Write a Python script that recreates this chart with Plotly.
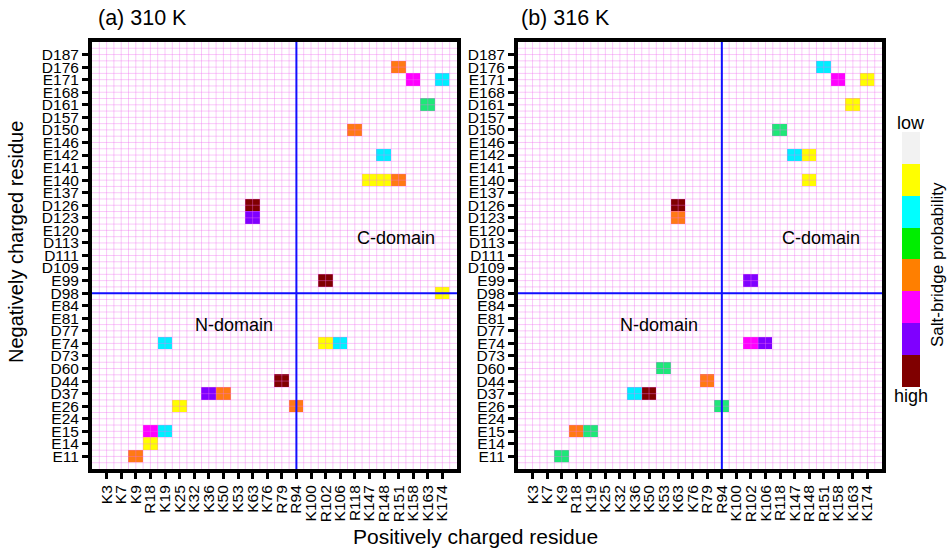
import numpy as np
import plotly.graph_objects as go

# ---------------- data ----------------
x_labels = ["K3", "K7", "K9", "R18", "K19", "K25", "K32", "K36", "K50", "K53", "K63", "K76",
            "R79", "R94", "K100", "R102", "K106", "R118", "K147", "R148", "R151", "K158",
            "K163", "K174"]
y_labels = ["E11", "E14", "E15", "E24", "E26", "D37", "D44", "D60", "D73", "E74", "D77", "E81",
            "E84", "D98", "E99", "D109", "D111", "D113", "E120", "D123", "D126", "E137", "E140",
            "E141", "E142", "E146", "D150", "D157", "D161", "E168", "E171", "D176", "D187"]

# probability rank: 1 = yellow (lowest shown) ... 7 = dark red (highest)
pos_310 = ["K9", "R18", "R18", "K19", "K25", "K36", "K50", "R79", "R94", "K19", "R102", "K106",
           "R102", "K174", "K63", "K63", "K147", "R148", "R151", "R148", "R118", "K163", "R151",
           "K158", "K174"]
neg_310 = ["E11", "E14", "E15", "E15", "E26", "D37", "D37", "D44", "E26", "E74", "E74", "E74",
           "E99", "D98", "D126", "D123", "E140", "E140", "E140", "E142", "D150", "D161", "D176",
           "E171", "E171"]
rank_310 = [4, 1, 5, 2, 1, 6, 4, 7, 4, 2, 1, 2, 7, 1, 7, 6, 1, 1, 4, 2, 4, 3, 4, 5, 2]

pos_316 = ["R151", "K158", "K174", "K163", "R118", "K147", "R148", "R148", "K63", "K63", "R102",
           "R102", "K106", "K53", "R79", "K36", "K50", "R94", "R18", "K19", "K9"]
neg_316 = ["D176", "E171", "E171", "D161", "D150", "E142", "E142", "E140", "D126", "D123", "E99",
           "E74", "E74", "D60", "D44", "D37", "D37", "E26", "E15", "E15", "E11"]
rank_316 = [2, 5, 1, 1, 3, 2, 1, 1, 7, 4, 6, 5, 6, 3, 4, 2, 7, 3, 4, 3, 3]

panel_titles = ["(a) 310 K", "(b) 316 K"]
divider_x = "R94"
divider_y = "D98"

# ---------------- styles ----------------
FONT = "Liberation Sans, Arial, sans-serif"
cell_colors = ["#ffff00", "#00f0ff", "#1ee878", "#ff7a14", "#ff00ff", "#7f00ff", "#800000"]
bar_colors = ["#800000", "#7f00ff", "#ff00ff", "#ff7f00", "#00ee00", "#00ffff", "#ffff00", "#f2f2f2"]


def discrete_scale(colors):
    n = len(colors)
    sc = []
    for i, c in enumerate(colors):
        sc.append([i / n, c])
        sc.append([(i + 1) / n, c])
    return sc


def build_z(pos, neg, rank):
    z = [[None] * len(x_labels) for _ in y_labels]
    for p, q, r in zip(pos, neg, rank):
        z[y_labels.index(q)][x_labels.index(p)] = r
    return z


fig = go.Figure()
XR = [-1, len(x_labels)]
YR = [-1, len(y_labels)]

panels = [(pos_310, neg_310, rank_310), (pos_316, neg_316, rank_316)]
for k, (pos, neg, rank) in enumerate(panels):
    xa = "x" if k == 0 else "x2"
    ya = "y" if k == 0 else "y2"
    fig.add_trace(go.Heatmap(
        x=list(range(len(x_labels))), y=list(range(len(y_labels))),
        z=build_z(pos, neg, rank), zmin=0.5, zmax=7.5,
        colorscale=discrete_scale(cell_colors), showscale=False,
        xaxis=xa, yaxis=ya, hoverinfo="skip"))
    # pink grid drawn above cells
    gx, gy = [], []
    for v in np.arange(XR[0] + 0.5, XR[1], 0.5):
        gx += [v, v, None]
        gy += [YR[0], YR[1], None]
    for v in np.arange(YR[0] + 0.5, YR[1], 0.5):
        gx += [XR[0], XR[1], None]
        gy += [v, v, None]
    fig.add_trace(go.Scatter(x=gx, y=gy, mode="lines",
                             line=dict(color="rgba(240,110,240,0.38)", width=1),
                             xaxis=xa, yaxis=ya, hoverinfo="skip", showlegend=False))
    # blue domain dividers
    xi = x_labels.index(divider_x)
    yi = y_labels.index(divider_y)
    fig.add_shape(type="line", x0=xi, x1=xi, y0=YR[0], y1=YR[1], xref=xa, yref=ya,
                  line=dict(color="#1010ff", width=2), layer="above")
    fig.add_shape(type="line", x0=XR[0], x1=XR[1], y0=yi, y1=yi, xref=xa, yref=ya,
                  line=dict(color="#1010ff", width=2), layer="above")
    fig.add_annotation(x=19.8, y=17.4, xref=xa, yref=ya, text="C-domain", showarrow=False,
                       font=dict(size=18, color="black", family=FONT))
    fig.add_annotation(x=8.7, y=10.5, xref=xa, yref=ya, text="N-domain", showarrow=False,
                       font=dict(size=18, color="black", family=FONT))

# colorbar
fig.add_trace(go.Scatter(
    x=[None], y=[None], mode="markers", showlegend=False, hoverinfo="skip",
    marker=dict(color=[0], cmin=-0.5, cmax=7.5, colorscale=discrete_scale(bar_colors),
                showscale=True,
                colorbar=dict(x=902 / 950, xanchor="left", y=1 - 259.5 / 551, yanchor="middle",
                              len=255, lenmode="pixels", thickness=18, thicknessmode="pixels",
                              outlinewidth=0, showticklabels=False, ticks="", xpad=0, ypad=0))))

axis_common = dict(showline=True, linewidth=4, linecolor="black", mirror=True,
                   ticks="outside", ticklen=6, tickwidth=3, tickcolor="black",
                   showgrid=False, zeroline=False, tickfont=dict(size=15.5, family=FONT, color="black"))

xdom = [[92 / 950, 457 / 950], [518 / 950, 882 / 950]]
ydom = [1 - 469 / 551, 1 - 42 / 551]

fig.update_layout(
    width=950, height=551, margin=dict(l=0, r=0, t=0, b=0),
    paper_bgcolor="white", plot_bgcolor="white", showlegend=False,
    font=dict(family=FONT, color="black"),
    xaxis=dict(domain=xdom[0], range=XR, tickvals=list(range(len(x_labels))), ticktext=x_labels,
               tickangle=-90, anchor="y", **axis_common),
    yaxis=dict(domain=ydom, range=YR, tickvals=list(range(len(y_labels))), ticktext=y_labels,
               anchor="x", **axis_common),
    xaxis2=dict(domain=xdom[1], range=XR, tickvals=list(range(len(x_labels))), ticktext=x_labels,
                tickangle=-90, anchor="y2", **axis_common),
    yaxis2=dict(domain=ydom, range=YR, tickvals=list(range(len(y_labels))), ticktext=y_labels,
                anchor="x2", **axis_common),
)

ann = [
    dict(x=96 / 950, y=1 - 18 / 551, text=panel_titles[0], size=21.5, xanchor="left"),
    dict(x=519 / 950, y=1 - 18 / 551, text=panel_titles[1], size=21.5, xanchor="left"),
    dict(x=475 / 950, y=1 - 536 / 551, text="Positively charged residue", size=21, xanchor="center"),
    dict(x=911 / 950, y=1 - 123 / 551, text="low", size=18, xanchor="center"),
    dict(x=911 / 950, y=1 - 396 / 551, text="high", size=18, xanchor="center"),
]
for a in ann:
    fig.add_annotation(x=a["x"], y=a["y"], xref="paper", yref="paper", text=a["text"],
                       showarrow=False, xanchor=a["xanchor"], yanchor="middle",
                       font=dict(size=a["size"], family=FONT, color="black"))
fig.add_annotation(x=16 / 950, y=1 - 242 / 551, xref="paper", yref="paper",
                   text="Negatively charged residue", textangle=-90, showarrow=False,
                   xanchor="center", yanchor="middle",
                   font=dict(size=20, family=FONT, color="black"))
fig.add_annotation(x=937 / 950, y=1 - 265 / 551, xref="paper", yref="paper",
                   text="Salt-bridge probability", textangle=-90, showarrow=False,
                   xanchor="center", yanchor="middle",
                   font=dict(size=17, family=FONT, color="black"))

fig.write_html("out.html", config={"displayModeBar": False},
               post_script="document.body.style.margin='0';")
